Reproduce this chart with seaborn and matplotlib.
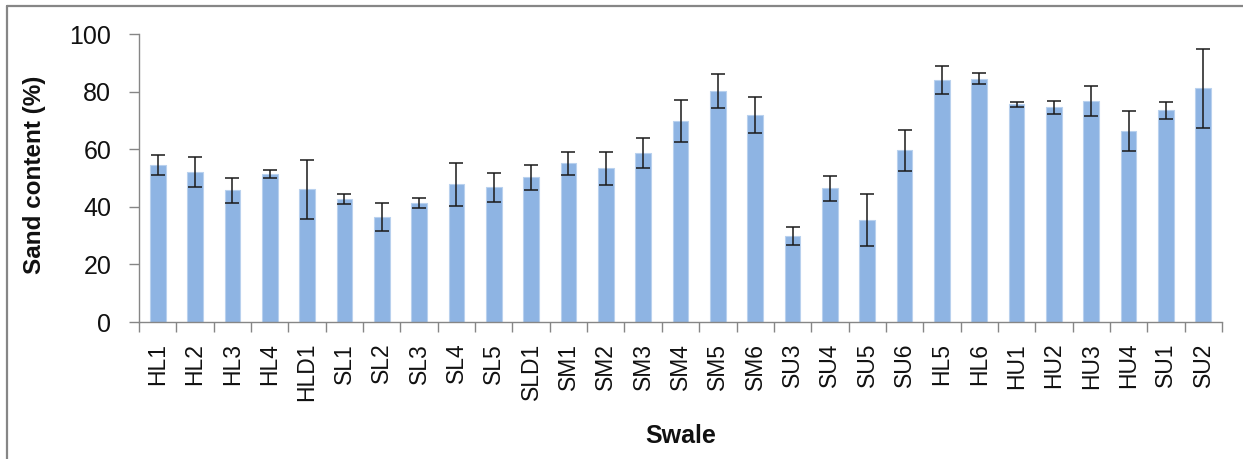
import matplotlib
matplotlib.use("Agg")
import matplotlib.pyplot as plt
from matplotlib.lines import Line2D
import numpy as np
import pandas as pd
import seaborn as sns

swales = ["HL1", "HL2", "HL3", "HL4", "HLD1", "SL1", "SL2", "SL3", "SL4", "SL5",
          "SLD1", "SM1", "SM2", "SM3", "SM4", "SM5", "SM6", "SU3", "SU4", "SU5",
          "SU6", "HL5", "HL6", "HU1", "HU2", "HU3", "HU4", "SU1", "SU2"]
sand = [54.5, 52.0, 45.7, 51.4, 46.1, 42.8, 36.5, 41.4, 47.8, 46.8,
        50.2, 55.1, 53.4, 58.6, 69.9, 80.2, 71.8, 29.9, 46.4, 35.4,
        59.7, 84.0, 84.4, 75.6, 74.5, 76.6, 66.4, 73.5, 81.1]
sand_err = [3.6, 5.2, 4.4, 1.5, 10.3, 1.8, 4.9, 1.8, 7.5, 5.1,
            4.2, 4.0, 5.7, 5.3, 7.3, 5.8, 6.2, 3.0, 4.4, 9.1,
            7.1, 4.9, 1.9, 0.9, 2.4, 5.2, 7.0, 3.0, 13.7]

df = pd.DataFrame({"Swale": swales, "Sand": sand})

sns.set_theme(style="white")
plt.rcParams["font.family"] = ["Liberation Sans", "DejaVu Sans"]

fig = plt.figure(figsize=(12.43, 4.59), dpi=100)
W, H = 1243, 459
ax = fig.add_axes([139 / W, 1 - 322 / H, (1222 - 139) / W, (322 - 34) / H])

bar_color = "#8EB4E3"
sns.barplot(data=df, x="Swale", y="Sand", color=bar_color, width=0.42,
            errorbar=None, ax=ax, edgecolor="#B9D1EE", linewidth=0.8,
            saturation=1)
ax.errorbar(np.arange(len(swales)), sand, yerr=sand_err, fmt="none",
            ecolor="#1a1a1a", elinewidth=1.1, capsize=5, capthick=1.1, zorder=3)

ax.set_xlim(-0.5, len(swales) - 0.5)
ax.set_ylim(0, 100)
ax.set_yticks([0, 20, 40, 60, 80, 100])

axis_gray = "#868686"
for side in ["top", "right"]:
    ax.spines[side].set_visible(False)
for side in ["left", "bottom"]:
    ax.spines[side].set_color(axis_gray)
    ax.spines[side].set_linewidth(1.0)

# category ticks sit on the boundaries between bars
ax.set_xticks(np.arange(len(swales)))
ax.set_xticklabels(swales, rotation=90, fontsize=16.5, color="#111111")
ax.tick_params(axis="x", which="major", length=0, pad=15)
ax.set_xticks(np.arange(-0.5, len(swales), 1.0), minor=True)
ax.tick_params(axis="x", which="minor", length=7, width=1.0, color=axis_gray,
               direction="out", bottom=True)
ax.tick_params(axis="y", length=7, width=1.0, color=axis_gray, direction="out",
               left=True, labelsize=18, pad=13, labelcolor="#111111")

ax.set_xlabel("Swale", fontsize=18, fontweight="bold", color="#111111")
ax.xaxis.set_label_coords(0.5 * (139 + 1222) / W, 1 - 436 / H,
                          transform=fig.transFigure)
ax.set_ylabel("Sand content (%)", fontsize=17.5, fontweight="bold", color="#111111")
ax.yaxis.set_label_coords(35 / W, 1 - 175 / H, transform=fig.transFigure)
ax.yaxis.label.set_va("center")
ax.xaxis.label.set_va("center")

# chart-area frame (top and left edges inside the canvas)
fig.add_artist(Line2D([6.5 / W, 1.0], [1 - 5.5 / H, 1 - 5.5 / H],
                      transform=fig.transFigure, color=axis_gray, lw=1.6))
fig.add_artist(Line2D([6.5 / W, 6.5 / W], [0.0, 1 - 5.5 / H],
                      transform=fig.transFigure, color=axis_gray, lw=1.6))

fig.savefig("out.png", dpi=100)
